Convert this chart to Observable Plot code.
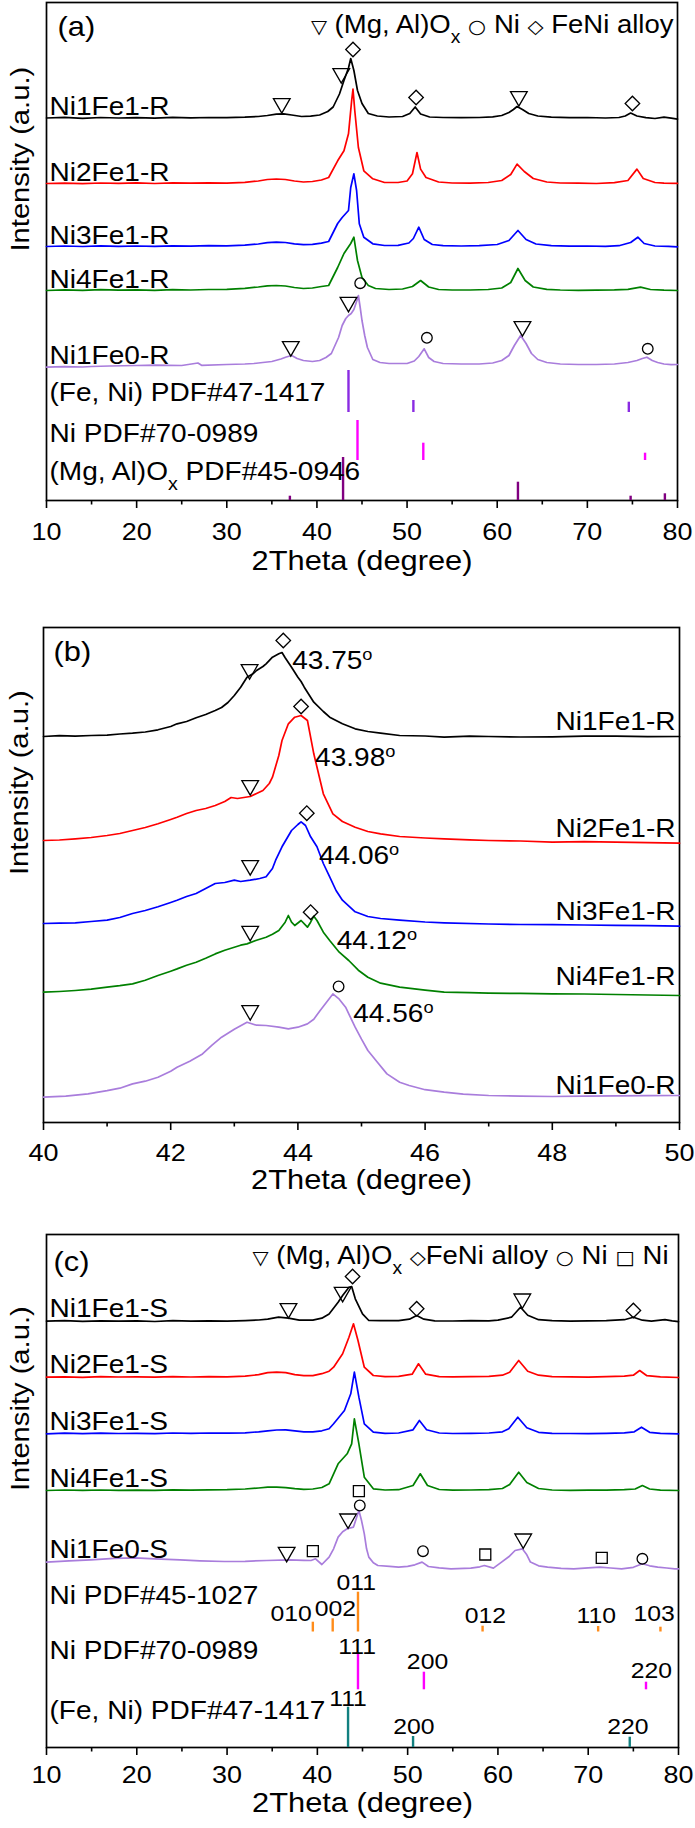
<!DOCTYPE html>
<html><head><meta charset="utf-8">
<script src="https://cdn.jsdelivr.net/npm/d3@7"></script>
<script src="https://cdn.jsdelivr.net/npm/@observablehq/plot@0.6"></script>
<style>
html,body{margin:0;padding:0;background:#fff;}
#chart{width:695px;}
#chart svg{display:block;}
</style></head><body><div id="chart"></div>
<script>
// ---------------- DATA ----------------
// Panel (a): reduced samples, 2theta 10-80 (intensity in a.u., stacked)
const a_names = ["Ni1Fe1-R","Ni2Fe1-R","Ni3Fe1-R","Ni4Fe1-R","Ni1Fe0-R"];
const a_offsets = [382.5, 317, 254, 210, 135];
const a_Ni1Fe1R = [[10,0],[12,0.6],[14,-0.3],[16,0.5],[18,0],[20,0.4],[22,-0.2],[24,0.6],[26,0.2],[28,0.5],[30,0.3],[32,0.8],[33.5,1.5],[34.5,2.5],[35.5,3.8],[36.3,4.2],[37.2,3],[38.3,1.5],[39.3,1.8],[40.3,3],[41.2,6.5],[41.8,11],[42.5,24],[43,37.5],[43.5,50],[43.75,59.5],[44.1,47.5],[44.5,27.5],[45,14.5],[45.7,4.5],[46.7,2],[48,1],[49.5,1.5],[50.3,4.5],[50.9,11],[51.5,4],[52.5,1],[54,0.5],[56,0.3],[58,0.5],[59.5,1.2],[60.5,2.5],[61.3,5.5],[61.8,8.5],[62.2,11.5],[62.8,8.5],[63.5,4.5],[64.5,2],[66,0.8],[68,0.3],[70,0.5],[72,0],[73.5,0.5],[74.2,2],[74.8,5],[75.5,2],[76.5,0.3],[77.5,-0.5],[78.5,0.8],[79.3,-0.2],[80,-1.2]];
const a_Ni2Fe1R = [[10,0],[12,0.4],[14,-0.2],[16,0.5],[18,0.1],[20,0.6],[22,0],[24,0.7],[26,0.3],[28,0.6],[30,0.4],[32,1.2],[33.5,2.5],[34.5,4],[35.5,4.5],[36.5,4],[37.5,2.5],[38.5,1.5],[39.5,2],[40.5,3.5],[41.3,6],[42.3,22.7],[43,32.7],[43.5,49.7],[43.85,82.7],[44,94.4],[44.2,72.7],[44.6,36],[45.2,12.7],[46.2,4.7],[47.5,1],[49,1],[50,2.5],[50.6,9.7],[51.1,31],[51.5,14.4],[52.1,6],[53.5,1.5],[55,0.5],[57,0.3],[59,1],[60.5,3],[61.5,9],[62.2,19.4],[63,12],[64,5],[65.5,1.5],[67,0.5],[69,0.3],[71,0],[73,0.8],[74.5,3],[75.5,14.4],[76.2,5],[77.5,1],[78.5,0.3],[80,0.2]];
const a_Ni3Fe1R = [[10,0],[12,0.5],[14,0],[16,0.6],[18,0.2],[20,0.5],[22,0.1],[24,0.6],[26,0.4],[28,0.8],[30,0.6],[32,1.3],[33.5,2.5],[34.5,3.8],[35.5,4.3],[36.5,4],[37.5,2.7],[38.5,1.8],[39.5,2.2],[40.5,3.3],[41.3,5],[42.3,23],[42.8,29],[43.5,36],[43.75,59],[44.1,72.7],[44.4,56],[44.7,22.7],[45.2,9.3],[46.2,2.7],[47.5,1],[49,1.2],[50.2,3.5],[50.7,8],[51.3,19.3],[51.9,7],[52.8,2],[54,0.8],[56,0.5],[58,0.8],[60,2],[61.3,6],[62.3,16],[63.2,7],[64.3,2.5],[66,0.8],[68,0.3],[70,0.5],[72,0.2],[73.5,0.8],[74.8,4],[75.6,9.3],[76.3,3],[77.5,0.5],[79,0.2],[80,-0.3]];
const a_Ni4Fe1R = [[10,0],[12,0.6],[14,0.2],[16,0.8],[18,0.3],[20,0.6],[22,0.2],[24,0.8],[26,0.5],[28,1],[30,1.2],[32,2.2],[33.5,3.5],[34.5,4.7],[35.5,5],[36.5,4.5],[37.5,3],[38.5,2],[39.5,2.5],[40.5,4],[41.3,5],[42.3,23],[43,37],[43.75,47],[44.1,53.3],[44.5,30],[45,13],[45.7,5],[46.5,2],[48,1],[49.5,1.5],[50.6,4],[51.5,10],[52.4,3.5],[53.5,1],[55,0.5],[57,0.5],[59,1],[60.5,2.5],[61.5,8],[62.3,22],[63.1,10],[64,3.5],[65.5,1.2],[67,0.5],[69,0.2],[71,0.4],[73,0.6],[74.5,1.2],[75.9,3.3],[77,1],[78.5,0.3],[80,0]];
const a_Ni1Fe0R = [[10,-1.7],[12,-1.2],[14,-1.5],[15,-1],[17,-0.5],[20,0],[22,0.3],[25,0],[26.8,2.5],[27.2,0.2],[30,1],[32,1.5],[33,2],[34,3],[35,4],[36,6.5],[36.6,8.5],[37.2,10],[37.8,7],[38.5,5],[39.5,4],[40.3,5],[41,8],[41.6,12],[42,20],[42.4,28],[42.8,40],[43.2,47],[43.5,50],[43.8,52],[44.1,56],[44.4,64],[44.6,70],[44.8,58],[45,45],[45.3,30],[45.6,18],[46.2,6],[47,3],[48,2],[50,2],[50.8,4.5],[51.3,9],[51.9,16.7],[52.4,8],[53,4],[54,2],[56,1.5],[58,1.5],[59.5,2.5],[60.5,5],[61.3,10],[61.9,20],[62.6,30],[63.2,22],[63.8,12],[64.5,6],[65.5,3],[67,1.5],[69,1],[71,1],[73,1.5],[74.5,3],[75.5,5],[76.1,7],[76.6,8.3],[77.2,5],[77.8,3],[78.5,1.5],[79.3,0.8],[80,1]];
const a_tri = [[36.1,397],[42.7,427],[62.4,404],[43.5,198.3],[37.1,154],[62.8,174]];
const a_dia = [[44.0,451],[51.0,403],[75.0,397]];
const a_cir = [[44.8,217.3],[52.2,162.7],[76.7,151.7]];
const a_sticksFeNi = [[43.5,88,130],[50.7,88,100],[74.6,88,98.3]];
const a_sticksNi = [[44.5,40,80],[51.8,40,57.3],[76.4,40,47.3]];
const a_sticksMgAl = [[37.0,0,4.3],[42.9,0,43],[62.3,0,18.3],[74.8,0,4.3],[78.6,0,6.7]];
const a_refLabels = [["(Fe, Ni) PDF#47-1417",108],["Ni PDF#70-0989",67],["(Mg, Al)O_x PDF#45-0946",28.3]];
const a_legend = "▽ (Mg, Al)O_x ○ Ni ◇ FeNi alloy";

// Panel (b): zoom 40-50
const b_names = ["Ni1Fe1-R","Ni2Fe1-R","Ni3Fe1-R","Ni4Fe1-R","Ni1Fe0-R"];
const b_offsets = [386, 282, 199, 130.3, 25.3];
const b_Ni1Fe1R = [[40,0],[40.25,0.8],[40.5,0.3],[40.75,1],[41,1.3],[41.2,2.5],[41.4,3.3],[41.6,4.5],[41.8,6.7],[42,10],[42.1,12.7],[42.25,15],[42.4,18.7],[42.55,22],[42.7,26],[42.8,29],[42.9,34],[43,41],[43.1,49.3],[43.2,59.3],[43.3,63],[43.35,66],[43.45,70],[43.5,72.7],[43.6,79.3],[43.7,82.7],[43.75,84],[43.8,78.7],[43.9,69.3],[44,59.3],[44.05,55],[44.1,49.3],[44.25,34.3],[44.4,25],[44.5,19.3],[44.7,12.7],[44.9,7.7],[45.1,5],[45.3,3.3],[45.6,1],[46,0.5],[46.3,-0.7],[46.7,0.3],[47,0],[47.5,-0.5],[48,-0.3],[48.5,0.4],[49,0.3],[49.5,-0.2],[50,0]];
const b_Ni2Fe1R = [[40,0],[40.25,0.5],[40.5,1.7],[40.75,3],[41,5],[41.2,7],[41.4,10],[41.6,13],[41.8,16.7],[42,21],[42.1,23.3],[42.25,27],[42.4,30],[42.55,32],[42.7,35],[42.85,39],[42.95,43],[43.05,42],[43.15,43],[43.25,44],[43.35,47],[43.45,50],[43.55,57],[43.6,63.3],[43.7,85],[43.75,100],[43.85,116.7],[43.95,123.3],[44.05,125],[44.15,120],[44.25,86.7],[44.4,46.7],[44.55,26.7],[44.7,19],[44.9,13.3],[45.1,9],[45.3,6.7],[45.6,4],[46,2.5],[46.3,1.7],[46.7,0.7],[47,0],[47.5,-0.5],[48,-1.7],[48.5,-1.2],[49,-1.7],[49.5,-2.2],[50,-2.7]];
const b_Ni3Fe1R = [[40,0],[40.25,0.3],[40.5,0.7],[40.75,2],[41,3.3],[41.2,6],[41.4,10],[41.6,13],[41.8,16.7],[42,21],[42.1,23.3],[42.25,27],[42.4,30],[42.55,35],[42.7,40],[42.85,41],[43,43.3],[43.1,42],[43.25,43.3],[43.4,45],[43.5,46.7],[43.6,55],[43.65,63.3],[43.75,76.7],[43.9,93],[44,99],[44.05,101.7],[44.12,98],[44.2,86.7],[44.3,76.7],[44.4,60],[44.5,46.7],[44.6,33],[44.7,23.3],[44.9,11.7],[45.1,7],[45.3,5],[45.6,3.3],[46,1.5],[46.3,0.7],[47,-0.5],[47.5,-1],[48,-1.2],[48.5,-1.5],[49,-1.8],[49.5,-2.2],[50,-2.7]];
const b_Ni4Fe1R = [[40,0],[40.25,0.7],[40.5,1.7],[40.75,3],[41,5],[41.2,6.5],[41.4,8.3],[41.6,12],[41.8,16.7],[42,21],[42.1,23.3],[42.25,27],[42.4,30],[42.55,34],[42.7,38.3],[42.85,42],[43,45],[43.1,47],[43.2,48.3],[43.35,52],[43.5,55],[43.6,58],[43.7,61.7],[43.8,70],[43.85,76.7],[43.9,70],[43.95,66.7],[44.05,71.7],[44.15,65],[44.2,70],[44.25,76],[44.3,71.7],[44.4,60],[44.5,51.7],[44.65,40],[44.8,31.7],[44.95,22],[45.1,15],[45.3,9],[45.6,5],[46,2],[46.3,0],[46.7,-0.5],[47,-1],[47.5,-1.2],[48,-1.7],[48.5,-1.8],[49,-2.3],[49.5,-2.8],[50,-3.3]];
const b_Ni1Fe0R = [[40,0],[40.35,1],[40.7,3.3],[41,6.5],[41.2,9],[41.4,13.3],[41.6,16],[41.8,20],[42,26],[42.1,30],[42.3,36],[42.5,43.3],[42.65,52],[42.8,60],[43,68],[43.2,75],[43.35,72],[43.5,71.7],[43.7,70],[43.85,68.3],[44,70],[44.15,73.3],[44.25,78],[44.35,86.7],[44.45,95],[44.55,103.3],[44.65,98],[44.75,90],[44.9,70],[45,58],[45.1,46.7],[45.25,35],[45.4,23.3],[45.6,15],[45.75,11.7],[46,7.5],[46.3,5],[46.6,3],[47,1.7],[47.5,1],[48,0.7],[48.5,1],[49,1.3],[49.5,1.5],[50,1.7]];
const b_tri = [[43.24,453],[43.25,337],[43.25,257],[43.25,191.3],[43.25,112]];
const b_dia = [[43.77,482],[44.05,416],[44.14,309.3],[44.2,210.3]];
const b_cir = [[44.64,136]];
const b_peakLabels = [["43.75^o",43.91,462],["43.98^o",44.27,365],["44.06^o",44.33,267],["44.12^o",44.61,182],["44.56^o",44.87,109]];
const b_sampleLabelY = [400.3, 294, 210.3, 145.3, 37];

// Panel (c): spent samples, 2theta 10-80
const c_names = ["Ni1Fe1-S","Ni2Fe1-S","Ni3Fe1-S","Ni4Fe1-S","Ni1Fe0-S"];
const c_offsets = [426.3, 370.3, 313.7, 257, 178.7];
const c_Ni1Fe1S = [[10,0],[12,0.5],[14,-0.2],[16,0.4],[18,0],[20,0.3],[22,-0.3],[24,0.5],[26,0],[28,0.4],[30,0],[32,0.6],[33.5,1.2],[34.5,2],[35.7,4],[36.8,3],[38,1],[39.5,1],[40.5,3],[41.3,7.3],[42.3,19],[42.8,25.7],[43.5,34],[43.8,34.7],[44.2,22.4],[45,7.4],[45.7,0.7],[47,0.5],[49,0.5],[50.2,2],[51,5.7],[51.8,2],[53,0.3],[55,0.2],[57,0.5],[59,0.3],[60,1],[61.5,4],[62.5,14],[63.3,6],[64.5,1.5],[66,0.5],[68,0],[70,0.3],[72,0.5],[74,1.5],[75,4],[76,1],[77,0],[78.5,1.5],[79.3,0.3],[80,-0.5]];
const c_Ni2Fe1S = [[10,0],[12,0.4],[14,-0.2],[16,0.5],[18,0.2],[20,0.4],[22,0],[24,0.6],[26,0.2],[28,0.5],[30,0.3],[32,1],[33.5,2.5],[34.5,4.5],[35.5,5],[36.5,4.5],[37.5,2.5],[38.5,1.5],[39.5,1.5],[40.5,3.5],[41.3,6],[41.8,10],[42.8,23.4],[43.5,40],[44,53.4],[44.5,36.7],[45.2,10],[46.2,1.7],[47.5,0.5],[49,0.8],[50.5,3],[51.2,13.4],[52,3],[53.5,0.5],[55,0.3],[57,0.6],[59,0.8],[60.5,2],[61.3,5],[62.3,16.7],[63.3,6],[64.5,2],[66,0.5],[68,0.3],[70,0],[72,0.5],[74,1],[75,2],[75.7,6.7],[76.5,1.5],[78,0.3],[80,-0.3]];
const c_Ni3Fe1S = [[10,0],[12,0.6],[14,0.2],[16,0.6],[18,0.3],[20,0.5],[22,0.2],[24,0.8],[26,0.5],[28,0.8],[30,0.6],[32,1],[33.5,2],[34.5,3],[35.5,3.8],[36.5,4],[37.5,3],[38.5,2],[39.5,2],[40.5,3],[41.3,5],[41.8,10],[43,23.3],[43.7,40],[44.1,61.6],[44.6,36.6],[45.2,10],[46.2,1.6],[47.5,0.5],[49,0.8],[50.6,4],[51.3,13.3],[52.1,4],[53.5,0.8],[55,0.3],[57,0.5],[59,0.8],[60.5,2],[61.2,5],[62.2,16.6],[63.2,6],[64.5,1.5],[66,0.5],[68,0.3],[70,0.2],[72,0.5],[74,1],[75.1,2],[75.9,6.6],[76.8,1.5],[78,0.5],[80,0]];
const c_Ni4Fe1S = [[10,0],[12,0.5],[14,0.1],[16,0.5],[18,0.2],[20,0.4],[22,0.1],[24,0.6],[26,0.3],[28,0.7],[30,0.8],[32,1.5],[33.5,2.5],[34.5,3.3],[35.5,3.3],[36.5,2.8],[37.5,1.8],[38.5,1.2],[39.5,1.5],[40.5,3],[41.3,6.7],[42.3,26.7],[43.3,36.7],[43.8,46.7],[44.1,71.7],[44.6,46.7],[45.2,13.3],[46.2,1.7],[47.5,0.5],[49,0.8],[50.6,5],[51.4,16.7],[52.2,5],[53.5,1],[55,0.3],[57,0.5],[59,0.8],[60.5,2],[61.3,6],[62.3,18.3],[63.2,8],[64.5,2],[66,0.5],[68,0.2],[70,0.3],[72,0.4],[74,0.8],[75.2,1.5],[76,5],[76.8,1.5],[78,0.3],[80,0]];
const c_Ni1Fe0S = [[10,6.7],[12.5,8],[14.9,9],[17.5,10.5],[19.8,11],[22,10],[24.8,9],[27,8],[29.7,7.3],[32,7.5],[34.4,8.3],[36.9,9],[38.5,8.5],[39.3,8.3],[39.8,10],[40.5,4.3],[41.3,11.7],[41.8,20],[42.3,31.7],[42.8,37],[43.3,40],[44,41.7],[44.3,50],[44.6,58.3],[44.9,48],[45.2,35],[45.45,20],[45.7,11.7],[46.2,6],[46.7,3.3],[48,2.5],[49,1.7],[50,2.5],[50.8,4],[51.6,6.7],[52.3,2.3],[53.5,1],[54.8,0],[57,0.7],[58,2],[58.5,3.3],[59.5,0.7],[60.4,6.7],[61.2,12],[61.9,18.3],[62.7,20],[63.2,14],[63.6,6.7],[64.5,3],[65.5,1.7],[67,0.5],[68.4,0],[70,1],[71.3,1.7],[72.5,0.8],[73.7,0],[75,1.5],[76,5],[76.8,3],[77.7,1.7],[78.7,0.8],[79.6,0],[80,0]];
const c_tri = [[36.8,439],[42.8,455.3],[62.7,448.7],[36.6,195.3],[43.4,228.7],[62.8,208.7]];
const c_dia = [[43.9,471],[51.0,438.7],[75.0,437]];
const c_cir = [[44.7,242],[51.7,196.3],[76.0,188.7]];
const c_sq = [[39.5,196.3],[44.6,256.3],[58.6,193],[71.5,189.7]];
const c_sticksNi45 = [[39.5,115.5,125.3],[41.7,115.5,128.7],[44.5,115.5,155.3],[58.3,115.5,121.3],[71.1,115.5,121],[78.0,115.5,120.3]];
const c_hklNi45 = [["010",37.1,133.7],["002",42.0,139],["011",44.3,164.3],["012",58.6,132],["110",70.9,132],["103",77.3,133.7]];
const c_sticksNi70 = [[44.5,57.7,93.7],[51.8,57.7,75.3],[76.4,57.7,65.3]];
const c_hklNi70 = [["111",44.4,100.3],["200",52.2,85.3],["220",77.0,77]];
const c_sticksFeNi = [[43.4,0,40.3],[50.6,0,11],[74.6,0,10.3]];
const c_hklFeNi = [["111",43.4,48.7],["200",50.7,20.3],["220",74.4,20.3]];
const c_refLabels = [["Ni PDF#45-1027",152],["Ni PDF#70-0989",97],["(Fe, Ni) PDF#47-1417",37]];
const c_legend = "▽ (Mg, Al)O_x ◇FeNi alloy ○ Ni □ Ni";

const ticks10 = [10,20,30,40,50,60,70,80];
const minor10 = [15,25,35,45,55,65,75];
const ticksB = [40,42,44,46,48,50];
const minorB = [41,43,45,47,49];

// ---------------- STYLE ----------------
const FONT = "'Liberation Sans', Arial, Helvetica, sans-serif";
const STRETCH = 1.1;
const lineColors = ["#000000","#ff0000","#0000ff","#008000","#a97ddc"];

function markerMarks(tri, dia, cir, sq) {
  const common = {x: d => d[0], y: d => d[1], stroke: "#000", fill: "none", strokeWidth: 1.3};
  const out = [
    Plot.dot(tri, {...common, symbol: "triangle", r: 6.2, rotate: 180}),
    Plot.dot(dia, {...common, symbol: "square", r: 5.8, rotate: 45}),
    Plot.dot(cir, {...common, symbol: "circle", r: 5.3})
  ];
  if (sq) out.push(Plot.dot(sq, {...common, symbol: "square", r: 6.2}));
  return out;
}
function sticks(data, color) {
  return Plot.ruleX(data, {x: d => d[0], y1: d => d[1], y2: d => d[2], stroke: color, strokeWidth: 2.4});
}
function rowsOf(names, offsets, patterns) {
  return names.flatMap((n, i) => patterns[i].map(([x, v]) => ({n, x, y: offsets[i] + v})));
}
function basePlot(cfg, marks) {
  return Plot.plot({
    width: 695, height: cfg.height,
    marginTop: cfg.mt, marginBottom: cfg.mb, marginLeft: cfg.ml, marginRight: cfg.mr,
    x: {domain: cfg.xDomain},
    y: {domain: [0, cfg.yMax], axis: null},
    color: {domain: cfg.names, range: lineColors},
    style: {fontFamily: FONT, fontSize: "24px", background: "#fff", overflow: "visible"},
    marks: [
      Plot.frame({stroke: "#000", strokeWidth: 1.7}),
      ...marks,
      Plot.line(rowsOf(cfg.names, cfg.offsets, cfg.patterns), {x: "x", y: "y", z: "n", stroke: "n", strokeWidth: 1.7}),
      ...cfg.after,
      Plot.axisX({ticks: cfg.major, tickSize: 8, tickPadding: cfg.tickPad, fontSize: 24.5, label: null, strokeWidth: 1.6, tickFormat: d => String(d)}),
      Plot.axisX({ticks: cfg.minor, tickSize: 4.5, tickFormat: () => "", label: null, strokeWidth: 1.6}),
      Plot.text(["2Theta (degree)"], {text: d => d, frameAnchor: "bottom", dy: cfg.titleDy, lineAnchor: "middle", fontSize: 28}),
      Plot.text(["Intensity (a.u.)"], {text: d => d, frameAnchor: "left", rotate: -90, dx: cfg.yLabelDx, lineAnchor: "middle", fontSize: 26.5}),
      Plot.text([cfg.tag], {text: d => d, frameAnchor: "top-left", textAnchor: "start", lineAnchor: "middle", dx: cfg.tagDx, dy: cfg.tagDy, fontSize: 28})
    ]
  });
}

// Panel (a)
const svgA = basePlot({
  height: 590, mt: 2, mb: 90, ml: 46, mr: 18, xDomain: [10, 80], yMax: 498,
  names: a_names, offsets: a_offsets, patterns: [a_Ni1Fe1R, a_Ni2Fe1R, a_Ni3Fe1R, a_Ni4Fe1R, a_Ni1Fe0R],
  major: ticks10, minor: minor10, tickPad: 14, titleDy: 61, yLabelDx: -26, tag: "(a)", tagDx: 11, tagDy: 25,
  after: [
    ...markerMarks(a_tri, a_dia, a_cir),
    Plot.text(a_names, {text: d => d, frameAnchor: "left", y: (d, i) => a_offsets[i] + [a_Ni1Fe1R, a_Ni2Fe1R, a_Ni3Fe1R, a_Ni4Fe1R, a_Ni1Fe0R][i][0][1] + 3, textAnchor: "start", lineAnchor: "bottom", dx: 3, fontSize: 25.5}),
    Plot.text(a_refLabels, {text: d => d[0], y: d => d[1], frameAnchor: "left", textAnchor: "start", lineAnchor: "middle", dx: 3, fontSize: 25.5}),
    Plot.text([a_legend], {text: d => d, frameAnchor: "top-right", textAnchor: "end", lineAnchor: "middle", dx: -4, dy: 22, fontSize: 25})
  ]
}, [sticks(a_sticksFeNi, "#8a2be2"), sticks(a_sticksNi, "#ff00ff"), sticks(a_sticksMgAl, "#800080")]);

// Panel (b)
const svgB = basePlot({
  height: 610, mt: 37, mb: 78, ml: 43, mr: 16, xDomain: [40, 50], yMax: 495,
  names: b_names, offsets: b_offsets, patterns: [b_Ni1Fe1R, b_Ni2Fe1R, b_Ni3Fe1R, b_Ni4Fe1R, b_Ni1Fe0R],
  major: ticksB, minor: minorB, tickPad: 13, titleDy: 58, yLabelDx: -24, tag: "(b)", tagDx: 10, tagDy: 25,
  after: [
    ...markerMarks(b_tri, b_dia, b_cir),
    Plot.text(b_peakLabels, {text: d => d[0], x: d => d[1], y: d => d[2], textAnchor: "start", lineAnchor: "middle", fontSize: 25.5}),
    Plot.text(b_names, {text: d => d, frameAnchor: "right", y: (d, i) => b_sampleLabelY[i], textAnchor: "end", lineAnchor: "middle", dx: -4, fontSize: 25.5})
  ]
}, []);

// Panel (c)
const svgC = basePlot({
  height: 628, mt: 34, mb: 81, ml: 46, mr: 17, xDomain: [10, 80], yMax: 513,
  names: c_names, offsets: c_offsets, patterns: [c_Ni1Fe1S, c_Ni2Fe1S, c_Ni3Fe1S, c_Ni4Fe1S, c_Ni1Fe0S],
  major: ticks10, minor: minor10, tickPad: 10, titleDy: 56, yLabelDx: -26, tag: "(c)", tagDx: 7, tagDy: 28,
  after: [
    ...markerMarks(c_tri, c_dia, c_cir, c_sq),
    Plot.text(c_names, {text: d => d, frameAnchor: "left", y: (d, i) => c_offsets[i] + [c_Ni1Fe1S, c_Ni2Fe1S, c_Ni3Fe1S, c_Ni4Fe1S, c_Ni1Fe0S][i][0][1] + 4, textAnchor: "start", lineAnchor: "bottom", dx: 3, fontSize: 25.5}),
    Plot.text(c_refLabels, {text: d => d[0], y: d => d[1], frameAnchor: "left", textAnchor: "start", lineAnchor: "middle", dx: 3, fontSize: 25.5}),
    Plot.text([...c_hklNi45, ...c_hklNi70, ...c_hklFeNi], {text: d => d[0], x: d => d[1], y: d => d[2], textAnchor: "middle", lineAnchor: "middle", fontSize: 22.5}),
    Plot.text([c_legend], {text: d => d, frameAnchor: "top-right", textAnchor: "end", lineAnchor: "middle", dx: -10, dy: 21, fontSize: 25})
  ]
}, [sticks(c_sticksNi45, "#ff8c1a"), sticks(c_sticksNi70, "#ff00ff"), sticks(c_sticksFeNi, "#128080")]);

const host = document.getElementById("chart");
for (const s of [svgA, svgB, svgC]) host.appendChild(s);

// rich text (subscript, superscript, symbols) and horizontal stretch of glyphs
function esc(s) { return s.replace(/[&<>]/g, c => ({"&": "&amp;", "<": "&lt;", ">": "&gt;"}[c])); }
for (const svg of [svgA, svgB, svgC]) {
  d3.select(svg).selectAll("text").each(function() {
    const t = this.textContent;
    if (/[_^▽○◇□]/.test(t)) {
      this.innerHTML = esc(t)
        .replace(/_x/g, '<tspan baseline-shift="sub" style="font-size:70%">x</tspan>')
        .replace(/\^o/g, '<tspan baseline-shift="super" style="font-size:65%">o</tspan>')
        .replace(/[▽○◇□]/g, c => `<tspan style="font-family:'DejaVu Sans';font-size:76%">${c}</tspan>`);
    }
  });
  d3.select(svg).selectAll("text").each(function() {
    const L = this.getComputedTextLength();
    if (L > 0) {
      this.setAttribute("textLength", (L * STRETCH).toFixed(2));
      this.setAttribute("lengthAdjust", "spacingAndGlyphs");
    }
  });
}
</script></body></html>
